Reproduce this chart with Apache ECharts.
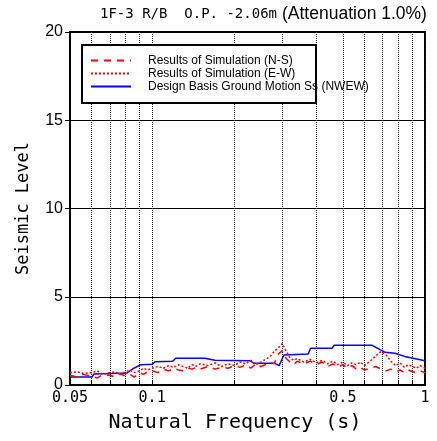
<!DOCTYPE html>
<html>
<head>
<meta charset="utf-8">
<script src="https://cdn.jsdelivr.net/npm/echarts@6/dist/echarts.min.js"></script>
<style>html,body{margin:0;padding:0;background:#fff;}#c{width:437px;height:441px;}</style>
</head>
<body>
<div id="c"></div>
<script>
// ---- data ----
const titleMain = '1F-3 R/B  O.P. -2.06m';
const titleSub = '(Attenuation 1.0%)';
const xName = 'Natural Frequency (s)';
const yName = 'Seismic Level';
const seriesNames = ['Results of Simulation (N-S)', 'Results of Simulation (E-W)', 'Design Basis Ground Motion Ss (NWEW)'];

const xLabelValues = [0.05, 0.1, 0.5, 1];
const xLabelTexts = ['0.05', '0.1', '0.5', '1'];
const xTickValues = [0.05, 0.06, 0.07, 0.08, 0.09, 0.1, 0.2, 0.3, 0.4, 0.5, 0.6, 0.7, 0.8, 0.9, 1];
const yTickLabels = ['0', '5', '10', '15', '20'];

const periodsRes = [0.05, 0.053, 0.056, 0.06, 0.063, 0.066, 0.07, 0.073, 0.076, 0.08, 0.083, 0.086, 0.09, 0.093, 0.096, 0.1, 0.105, 0.11, 0.115, 0.12, 0.125, 0.13, 0.135, 0.14, 0.145, 0.15, 0.16, 0.17, 0.18, 0.19, 0.2, 0.21, 0.22, 0.23, 0.24, 0.25, 0.26, 0.27, 0.28, 0.29, 0.3, 0.31, 0.32, 0.33, 0.34, 0.36, 0.38, 0.4, 0.42, 0.44, 0.46, 0.48, 0.5, 0.52, 0.54, 0.56, 0.58, 0.6, 0.63, 0.66, 0.69, 0.72, 0.75, 0.78, 0.81, 0.84, 0.87, 0.9, 0.93, 0.96, 1.0];
const valuesNS = [0.55, 0.45, 0.6, 0.5, 0.4, 0.6, 0.55, 0.45, 0.65, 0.5, 0.6, 0.45, 0.7, 0.6, 0.75, 0.8, 0.7, 0.9, 0.8, 0.95, 0.85, 0.8, 0.95, 0.9, 1.0, 0.9, 1.05, 0.9, 1.0, 0.95, 1.1, 1.0, 1.15, 0.95, 1.2, 1.05, 1.15, 1.3, 1.2, 1.75, 1.95, 1.5, 1.3, 1.15, 1.35, 1.2, 1.35, 1.15, 1.3, 1.05, 1.2, 1.0, 1.15, 0.95, 1.1, 0.9, 1.0, 0.85, 0.95, 1.05, 0.9, 0.8, 0.9, 0.75, 0.85, 0.7, 0.85, 0.75, 0.7, 0.8, 0.7];
const valuesEW = [0.7, 0.75, 0.65, 0.7, 0.8, 0.6, 0.7, 0.75, 0.6, 0.75, 0.85, 0.7, 0.8, 0.95, 0.85, 0.95, 1.05, 0.95, 1.1, 1.0, 1.15, 1.05, 0.95, 1.15, 1.05, 1.2, 1.1, 1.25, 1.05, 1.2, 1.1, 1.3, 1.2, 1.4, 1.15, 1.3, 1.45, 1.6, 1.9, 2.1, 2.35, 1.9, 1.55, 1.4, 1.5, 1.3, 1.45, 1.25, 1.4, 1.2, 1.35, 1.15, 1.3, 1.1, 1.25, 1.15, 1.3, 1.1, 1.35, 1.65, 1.9, 1.7, 1.35, 1.1, 1.25, 1.0, 1.15, 1.05, 0.95, 1.1, 0.95];

const periodsSs = [0.05, 0.0602, 0.0612, 0.0809, 0.085, 0.091, 0.1, 0.1025, 0.119, 0.122, 0.156, 0.17, 0.228, 0.236, 0.282, 0.292, 0.304, 0.373, 0.381, 0.456, 0.465, 0.64, 0.714, 0.775, 0.843, 1.0];
const valuesSs = [0.45, 0.45, 0.62, 0.68, 0.92, 1.15, 1.17, 1.32, 1.35, 1.52, 1.52, 1.4, 1.38, 1.23, 1.23, 1.1, 1.7, 1.76, 2.08, 2.08, 2.25, 2.25, 1.85, 1.8, 1.62, 1.37];

const pairs = (xs, ys) => xs.map((x, i) => [x, ys[i]]);

const chart = echarts.init(document.getElementById('c'), null, {renderer: 'canvas'});
const monoFont = 'DejaVu Sans Mono';
const sansFont = 'Liberation Sans';

chart.setOption({
  backgroundColor: '#ffffff',
  animation: false,
  title: {
    text: '{a|' + titleMain + '} {b|' + titleSub + '}',
    left: 100, top: 5, padding: 0,
    textStyle: {
      rich: {
        a: {fontFamily: monoFont, fontSize: 14, color: '#000', fontWeight: 'normal'},
        b: {fontFamily: sansFont, fontSize: 17.5, color: '#000', fontWeight: 'normal'}
      }
    }
  },
  grid: {
    left: 70, right: 12, top: 32, bottom: 56,
    show: true, borderColor: '#000', borderWidth: 2, backgroundColor: 'transparent'
  },
  graphic: [{
    type: 'rect', z: 3,
    shape: {x: 82, y: 45, width: 234, height: 58},
    style: {fill: '#fff', stroke: '#000', lineWidth: 2}
  }],
  legend: {
    orient: 'vertical', left: 90, top: 54, padding: 0, itemGap: 0,
    itemWidth: 40, itemHeight: 10, z: 6,
    itemStyle: {opacity: 0},
    textStyle: {fontFamily: sansFont, fontSize: 12, color: '#000', lineHeight: 13, padding: [0, 0, 0, 12]},
    data: seriesNames
  },
  xAxis: {
    type: 'log', logBase: 10, min: 0.05, max: 1,
    name: xName, nameLocation: 'middle', nameGap: 28,
    nameTextStyle: {fontFamily: monoFont, fontSize: 20, color: '#000', padding: [0, 25, 0, 0]},
    axisLine: {show: true, lineStyle: {color: '#000', width: 2}},
    axisTick: {show: true, inside: true, length: 5, customValues: xTickValues, lineStyle: {color: '#000', width: 1}},
    minorTick: {show: false},
    axisLabel: {
      customValues: xLabelValues, margin: 6,
      fontFamily: monoFont, fontSize: 15, color: '#000',
      formatter: function (v) {
        for (let i = 0; i < xLabelValues.length; i++) {
          if (Math.abs(xLabelValues[i] - v) < 1e-6) return xLabelTexts[i];
        }
        return '';
      }
    },
    splitLine: {show: true, lineStyle: {color: '#222', width: 1, type: [1, 1]}}
  },
  yAxis: {
    type: 'value', min: 0, max: 20, interval: 5,
    name: yName, nameLocation: 'middle', nameGap: 38,
    nameTextStyle: {fontFamily: monoFont, fontSize: 17, color: '#000'},
    axisLine: {show: true, lineStyle: {color: '#000', width: 2}},
    axisTick: {show: true, inside: false, length: 5, lineStyle: {color: '#000'}},
    axisLabel: {
      fontFamily: sansFont, fontSize: 16, color: '#000', margin: 7,
      formatter: function (v) { return yTickLabels[Math.round(v / 5)]; }
    },
    splitLine: {show: true, lineStyle: {color: '#000', width: 1}}
  },
  series: [
    {
      name: seriesNames[0], type: 'line', symbol: 'none', z: 3,
      data: pairs(periodsRes, valuesNS),
      lineStyle: {color: '#ff0000', width: 1.5, type: [7, 6]},
      itemStyle: {color: '#ff0000'}
    },
    {
      name: seriesNames[1], type: 'line', symbol: 'none', z: 3,
      data: pairs(periodsRes, valuesEW),
      lineStyle: {color: '#ff0000', width: 1.5, type: [2, 2]},
      itemStyle: {color: '#ff0000'}
    },
    {
      name: seriesNames[2], type: 'line', symbol: 'none', z: 2,
      data: pairs(periodsSs, valuesSs),
      lineStyle: {color: '#0000ff', width: 1.5},
      itemStyle: {color: '#0000ff'}
    }
  ]
});
</script>
</body>
</html>
